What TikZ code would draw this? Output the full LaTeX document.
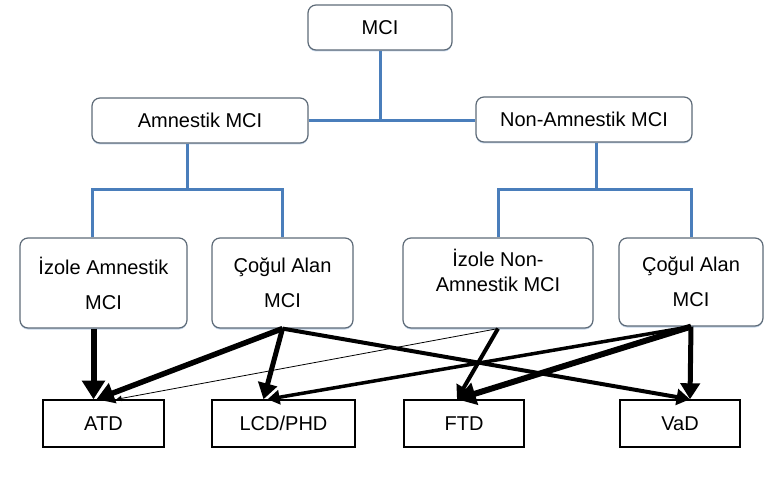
\documentclass[tikz,border=0pt]{standalone}
\usepackage{fontspec}
\setmainfont{Liberation Sans}
\usetikzlibrary{arrows.meta,shadows}
\definecolor{treeblue}{HTML}{4A7EBB}
\definecolor{boxgray}{HTML}{5E6B78}
\tikzset{
	mbox/.style={draw=boxgray,line width=1.2pt,rounded corners=8pt,fill=white,align=center,
		font=\fontsize{20}{35}\selectfont,inner sep=0pt,
		drop shadow={shadow xshift=0pt,shadow yshift=-1.5pt,fill=treeblue!55,opacity=0.6}},
	dbox/.style={draw=black,line width=1.4pt,fill=white,font=\fontsize{20}{24}\selectfont,
		inner sep=0pt,minimum height=47pt},
	tedge/.style={draw=treeblue,line width=3pt},
	darrow/.style={draw=black,line width=#1,-{Triangle[length=3pt 2.6,width=3pt 3.2]}}
}
\begin{document}
\begin{tikzpicture}[x=1pt,y=-1pt]
	\useasboundingbox (0,0) rectangle (772,484);
	
	% MCI tree
	\node[mbox,minimum width=144pt,minimum height=45pt] (mci) at (380,27.5) {MCI};
	\node[mbox,minimum width=216pt,minimum height=45pt] (amn) at (200,120.5) {Amnestik MCI};
	\node[mbox,minimum width=216pt,minimum height=45pt] (nonamn) at (584,119.5) {Non-Amnestik MCI};
	\node[mbox,minimum width=167pt,minimum height=90pt] (izam) at (103.5,283) {İzole Amnestik\\MCI};
	\node[mbox,minimum width=141pt,minimum height=90pt] (cogA) at (282.5,283) {Çoğul Alan\\MCI};
	\node[mbox,minimum width=190pt,minimum height=90pt,font=\fontsize{20}{25}\selectfont]
		(iznon) at (498,283) {İzole Non-\\Amnestik MCI\\\mbox{}};
	\node[mbox,minimum width=144pt,minimum height=88pt] (cogB) at (691,282) {Çoğul Alan\\MCI};
	
	% diagnoses
	\node[dbox,minimum width=121pt] (atd) at (103.5,423.5) {ATD};
	\node[dbox,minimum width=143pt] (lcd) at (283.5,423.5) {LCD/PHD};
	\node[dbox,minimum width=120pt] (ftd) at (464,423.5) {FTD};
	\node[dbox,minimum width=120pt] (vad) at (680,423.5) {VaD};
	
	\coordinate (amnfork) at (187,190);
	\coordinate (nonfork) at (596,190);
	\draw[tedge] (mci.south) -- (mci.south |- amn.east);
	\draw[tedge] (amn.east) -- (amn.east -| nonamn.west);
	\draw[tedge] (amnfork |- amn.south) -- (amnfork);
	\draw[tedge] (nonfork |- nonamn.south) -- (nonfork);
	\draw[tedge] ([xshift=-11pt]izam.north) |- (amnfork) -| (cogA.north);
	\draw[tedge] (iznon.north) |- (nonfork) -| (cogB.north);
	
	% arrows
	\draw[darrow=6pt] ([xshift=-10pt]izam.south) -- ([xshift=-10pt]atd.north);
	\draw[darrow=5.5pt] (cogA.south) -- ([xshift=-7pt]atd.north);
	\draw[darrow=5pt] (cogA.south) -- ([xshift=-20pt]lcd.north);
	\draw[darrow=4pt] (cogA.south) -- ([xshift=10pt]vad.north);
	\draw[darrow=0.8pt] (iznon.south) -- ([xshift=13pt]atd.north);
	\draw[darrow=4pt] (iznon.south) -- ([xshift=-7pt]ftd.north);
	\draw[darrow=3.5pt] (cogB.south) -- ([xshift=-16pt]lcd.north);
	\draw[darrow=6pt] (cogB.south) -- ([xshift=-7pt]ftd.north);
	\draw[darrow=5pt] (cogB.south) -- ([xshift=10pt]vad.north);
\end{tikzpicture}
\end{document}
